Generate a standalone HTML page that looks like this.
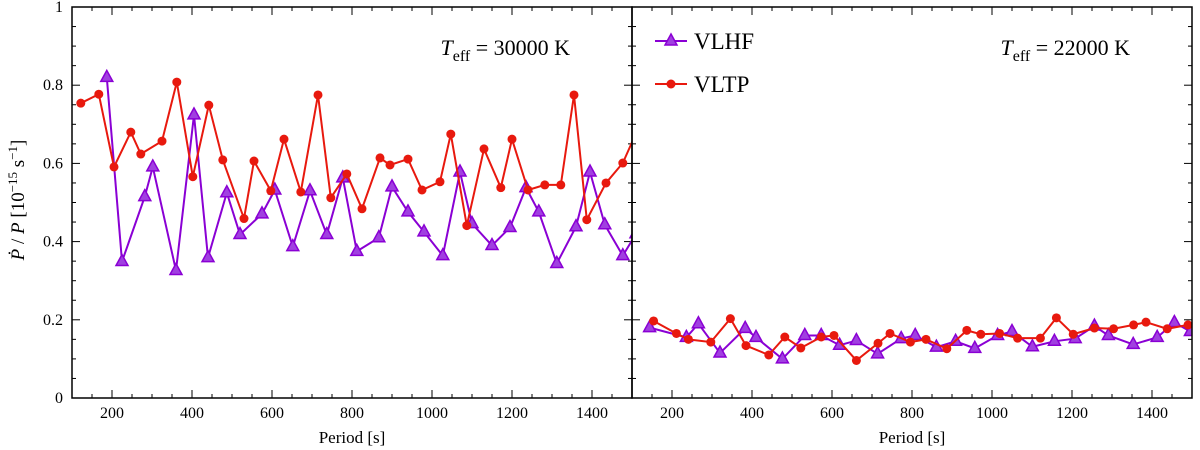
<!DOCTYPE html>
<html><head><meta charset="utf-8"><style>
body{margin:0;background:#fff;}
svg{display:block;font-family:"Liberation Serif",serif;}
</style></head><body>
<svg id="chart" width="1200" height="450"></svg>
<script>
const leftHFp=[187,225,282,302,360,405,440,487,520,575,607,652,695,737,777,812,867,900,940,980,1027,1070,1100,1150,1195,1235,1267,1312,1360,1395,1432,1477,1510];
const leftHFv=[0.820,0.349,0.515,0.591,0.326,0.724,0.359,0.525,0.418,0.471,0.532,0.387,0.530,0.418,0.563,0.375,0.410,0.540,0.476,0.425,0.364,0.578,0.446,0.390,0.436,0.538,0.476,0.344,0.438,0.578,0.443,0.364,0.42];
const leftTPp=[122,167,205,247,272,325,362,402,442,477,530,555,597,630,672,715,747,787,825,870,895,940,975,1020,1047,1087,1130,1172,1200,1240,1282,1322,1355,1387,1435,1477,1520];
const leftTPv=[0.754,0.777,0.591,0.680,0.624,0.657,0.808,0.566,0.749,0.609,0.459,0.606,0.530,0.662,0.527,0.775,0.512,0.573,0.484,0.614,0.596,0.611,0.532,0.553,0.675,0.441,0.637,0.538,0.662,0.532,0.545,0.545,0.775,0.456,0.550,0.601,0.70];
const rightHFp=[144,236,266,320,383,410,476,532,573,619,661,714,773,808,861,909,957,1014,1050,1101,1156,1208,1256,1291,1353,1413,1456,1496];
const rightHFv=[0.180,0.155,0.190,0.115,0.178,0.155,0.100,0.160,0.160,0.135,0.147,0.113,0.152,0.160,0.130,0.145,0.127,0.160,0.170,0.131,0.145,0.152,0.184,0.160,0.137,0.155,0.193,0.170];
const rightTPp=[154,211,241,297,346,385,442,482,522,573,605,661,715,745,796,835,887,937,972,1019,1064,1121,1161,1203,1256,1304,1354,1385,1438,1490];
const rightTPv=[0.197,0.165,0.150,0.143,0.203,0.134,0.110,0.156,0.128,0.156,0.160,0.096,0.140,0.165,0.143,0.150,0.126,0.173,0.163,0.165,0.153,0.153,0.205,0.163,0.179,0.177,0.187,0.194,0.177,0.187];
const xTicks=[200,400,600,800,1000,1200,1400];
const yTicks=[0,0.2,0.4,0.6,0.8,1];
const yTickLabels=["0","0.2","0.4","0.6","0.8","1"];

const NS="http://www.w3.org/2000/svg";
const svg=document.getElementById('chart');
const top0=7,bot=398,xmin=100,xmax=1500,W=560;
function yS(v){return bot-v*(bot-top0);}
function mk(tag,attrs,parent){const e=document.createElementNS(NS,tag);for(const k in attrs)e.setAttribute(k,attrs[k]);(parent||svg).appendChild(e);return e;}
const PUR="#8a00d4",RED="#e8190e";

function panel(x0,name,hfP,hfV,tpP,tpV,teff,showY){
  const g=mk('g',{});
  
  
  const xS=p=>x0+(p-xmin)/(xmax-xmin)*W;
  const cid='clip'+name;
  const cp=mk('clipPath',{id:cid},g);mk('rect',{x:x0,y:top0,width:W,height:bot-top0},cp);
  for(let p=100;p<=1500;p+=50){const x=xS(p);const L=(p%200===0)?8:4;
    mk('line',{x1:x,y1:bot,x2:x,y2:bot-L,stroke:'#000','stroke-width':1},g);
    mk('line',{x1:x,y1:top0,x2:x,y2:top0+L,stroke:'#000','stroke-width':1},g);}
  xTicks.forEach(p=>{const t=mk('text',{x:xS(p),y:418,'text-anchor':'middle','font-size':16},g);t.textContent=p;
    
    });
  for(let i=0;i<=20;i++){const v=i*0.05,y=yS(v),L=(i%4===0)?8:4;
    mk('line',{x1:x0,y1:y,x2:x0+L,y2:y,stroke:'#000','stroke-width':1},g);
    mk('line',{x1:x0+W,y1:y,x2:x0+W-L,y2:y,stroke:'#000','stroke-width':1},g);}
  if(showY){yTicks.forEach((v,i)=>{const t=mk('text',{x:x0-9,y:yS(v)+5,'text-anchor':'end','font-size':16},g);t.textContent=yTickLabels[i];
    
    });}
  const lt=mk('text',{x:x0+W/2,y:443,'text-anchor':'middle','font-size':17},g);lt.textContent='Period [s]';
  
  
  const dg=mk('g',{'clip-path':'url(#'+cid+')'},g);
  function series(P,V,col,tri,sname){
    const s=mk('g',{},dg);
    
    
    mk('polyline',{points:P.map((p,i)=>xS(p)+','+yS(V[i])).join(' '),fill:'none',stroke:col,'stroke-width':2},s);
    P.forEach((p,i)=>{const x=xS(p),y=yS(V[i]);let m;
      if(tri)m=mk('polygon',{points:`${x},${y-7} ${x-6},${y+4} ${x+6},${y+4}`,fill:'#a040e0',stroke:col,'stroke-width':1.5},s);
      else m=mk('circle',{cx:x,cy:y,r:4.5,fill:col},s);
      
      });
  }
  series(hfP,hfV,PUR,true,'vlhf-series');
  series(tpP,tpV,RED,false,'vltp-series');
  mk('rect',{x:x0,y:top0,width:W,height:bot-top0,fill:'none',stroke:'#000','stroke-width':1.5},g);
  const a=mk('text',{x:x0+W-62,y:55,'text-anchor':'end','font-size':22},g);
  a.innerHTML='<tspan font-style="italic">T</tspan><tspan font-size="16" dy="6">eff</tspan><tspan dy="-6"> = '+teff+' K</tspan>';
  
  
  return xS;
}
panel(72,'left-panel',leftHFp,leftHFv,leftTPp,leftTPv,30000,true);
panel(632,'right-panel',rightHFp,rightHFv,rightTPp,rightTPv,22000,false);

const lg=mk('g',{});


const e1=mk('g',{},lg);


mk('line',{x1:655,y1:41,x2:687,y2:41,stroke:PUR,'stroke-width':2},e1);
mk('polygon',{points:'671,34 665,45 677,45',fill:'#a040e0',stroke:PUR,'stroke-width':1.5},e1);
const t1=mk('text',{x:694,y:49,'font-size':23},e1);t1.textContent='VLHF';
const e2=mk('g',{},lg);


mk('line',{x1:655,y1:84,x2:687,y2:84,stroke:RED,'stroke-width':2},e2);
mk('circle',{cx:671,cy:84,r:4.5,fill:RED},e2);
const t2=mk('text',{x:694,y:92,'font-size':23},e2);t2.textContent='VLTP';

const yt=mk('text',{x:0,y:0,'font-size':19,'text-anchor':'middle',transform:'translate(24,200) rotate(-90)'});
yt.innerHTML='<tspan font-style="italic">Ṗ</tspan> / <tspan font-style="italic">P</tspan> [10<tspan font-size="13" dy="-7">−15</tspan><tspan dy="7"> s</tspan><tspan font-size="13" dy="-7">−1</tspan><tspan dy="7">]</tspan>';


</script>
</body></html>
